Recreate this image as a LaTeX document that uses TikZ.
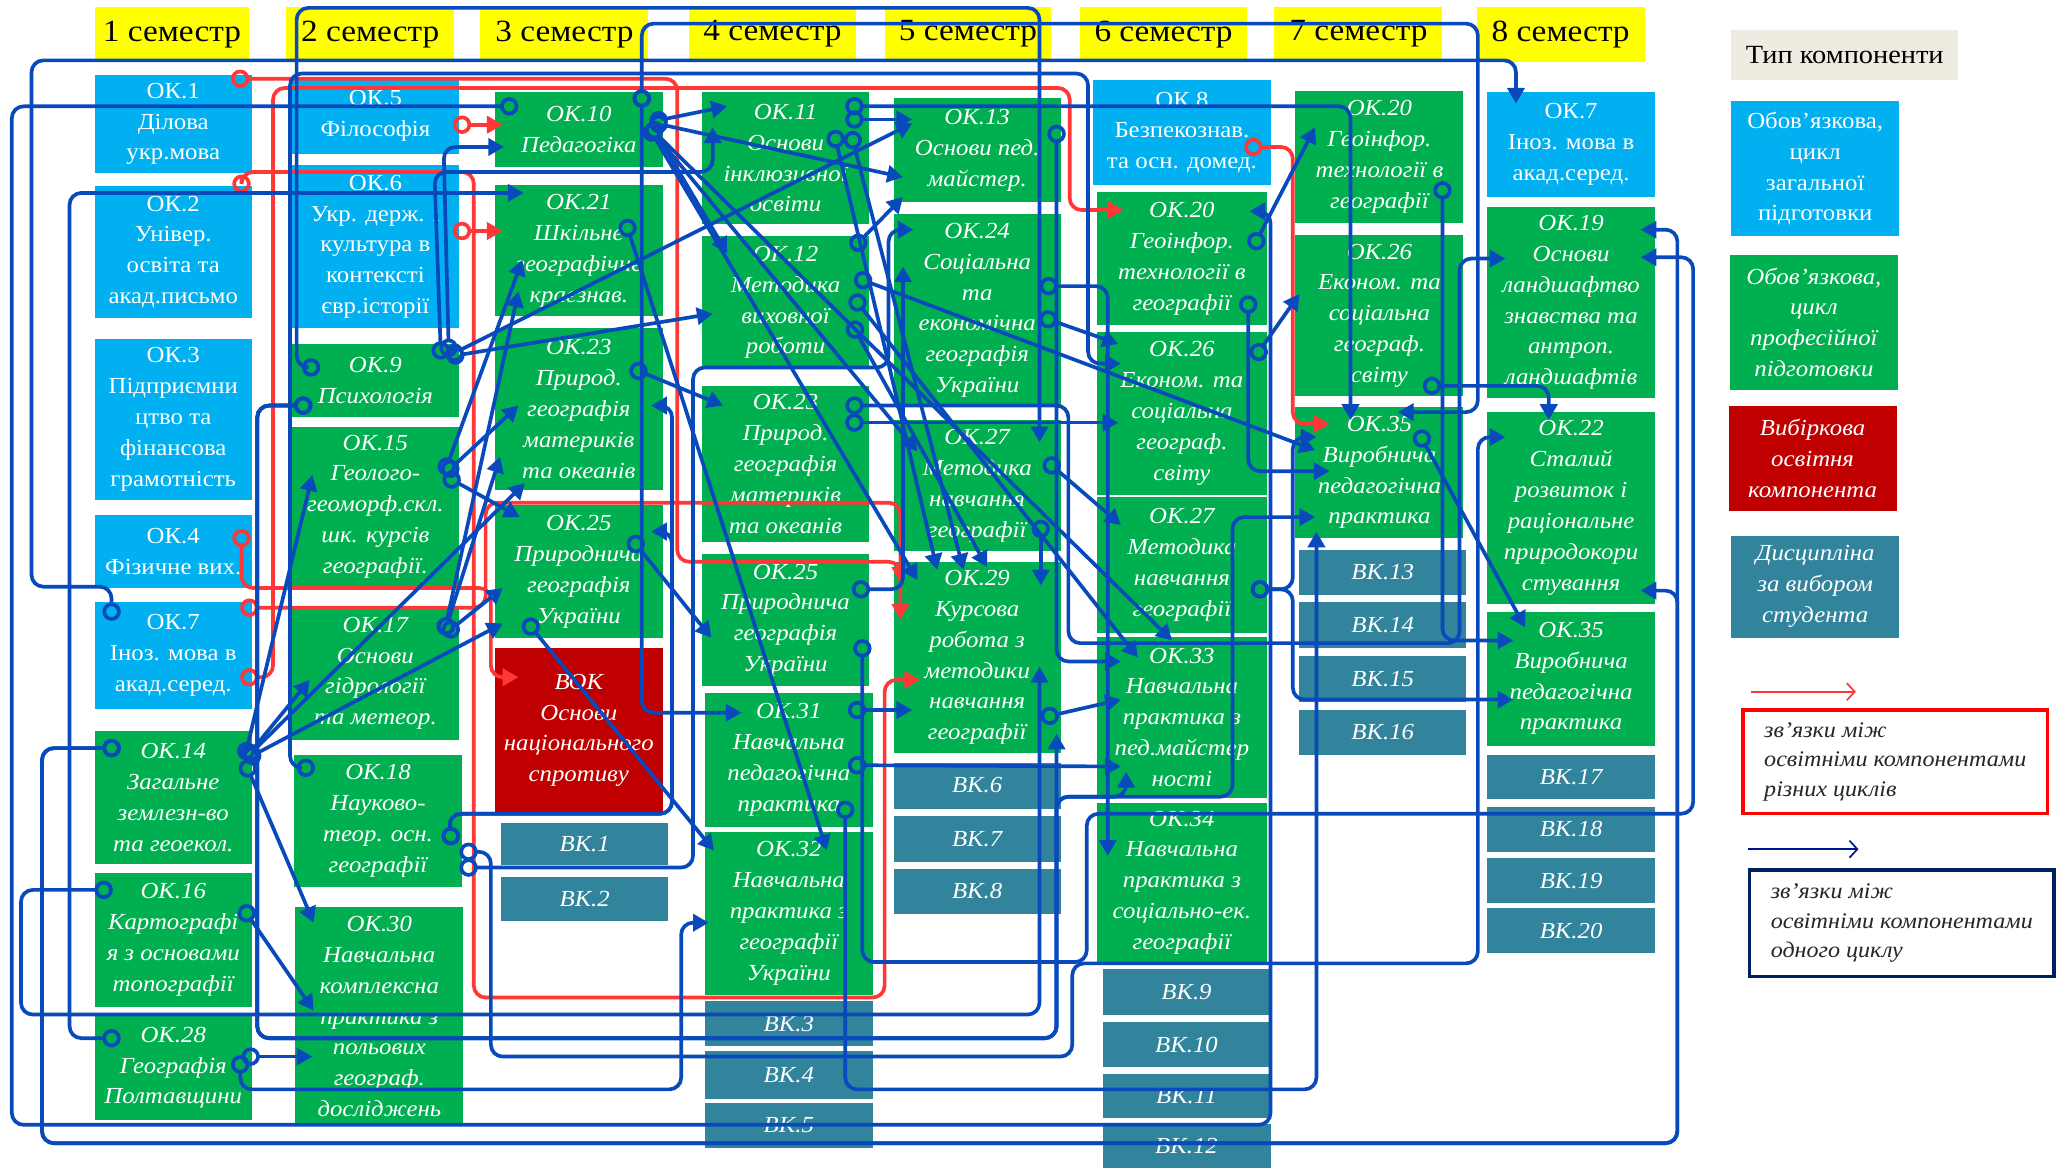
\documentclass[tikz,border=0pt]{standalone}
\usepackage{fontspec}
\setmainfont{Liberation Serif}[FakeStretch=1.08]
\usetikzlibrary{arrows.meta,calc}
\definecolor{cLB}{HTML}{00B0F0}
\definecolor{cGR}{HTML}{00B050}
\definecolor{cRD}{HTML}{C00000}
\definecolor{cTL}{HTML}{31849B}
\definecolor{cYL}{HTML}{FFFF00}
\definecolor{cLN}{RGB}{8,74,188}
\definecolor{cRL}{RGB}{255,55,55}
\definecolor{cNV}{HTML}{002060}
\definecolor{cBG}{HTML}{EEECE1}
\newcommand\bxfont{\fontsize{17.5}{23.5}\selectfont}
\newcommand\hdfont{\fontsize{23.5}{26}\selectfont}
\newcommand\lgfont{\fontsize{17}{22.5}\selectfont}
\newcommand\bx[7]{%
 \pgfmathsetlengthmacro\bw{(#4-#3)*1pt}\pgfmathsetlengthmacro\bh{(#6-#5)*1pt}%
 \pgfmathsetmacro\bcx{(#3+#4)/2}\pgfmathsetmacro\bcy{(#5+#6)/2}%
 \node[#2,minimum width=\bw,minimum height=\bh] (#1) at (\bcx,\bcy) {#7};}
\newcommand\ptE[3]{($(#1.east|-0,#2)+(#3,0)$)}
\newcommand\ptW[3]{($(#1.west|-0,#2)+(#3,0)$)}
\newcommand\ptN[3]{($(#1.north-|#2,0)+(0,#3)$)}
\newcommand\ptS[3]{($(#1.south-|#2,0)+(0,#3)$)}
\tikzset{
 box/.style={inner sep=0pt,outer sep=0pt,align=center,text=white,font=\bxfont},
 lb/.style={box,fill=cLB},
 gr/.style={box,fill=cGR,font=\bxfont\itshape},
 rdb/.style={box,fill=cRD,font=\bxfont\itshape},
 tl/.style={box,fill=cTL,font=\bxfont\itshape},
 hd/.style={inner sep=0pt,outer sep=0pt,fill=cYL,text=black,font=\hdfont},
 lgbox/.style={inner sep=0pt,outer sep=0pt,fill=white,line width=2.6pt,align=left,text=black!85,font=\lgfont\itshape},
 cb/.style={draw=cLN,line width=2.8pt,rounded corners=9pt,{Circle[open,length=14pt,width=14pt]}-{Triangle[length=12pt,width=13pt]}},
 cr/.style={draw=cRL,line width=2.8pt,rounded corners=9pt,{Circle[open,length=14pt,width=14pt]}-{Triangle[length=12pt,width=13pt]}}
}
\begin{document}
\begin{tikzpicture}[x=1pt,y=-1pt]
\useasboundingbox (0,0) rectangle (1568,890);
\fill[white] (0,0) rectangle (1568,890);
% headers
\bx{h1}{hd}{72}{190}{5}{47}{1 семестр}
\bx{h2}{hd}{218}{346}{5}{47}{2 семестр}
\bx{h3}{hd}{366}{494}{5}{47}{3 семестр}
\bx{h4}{hd}{525}{652}{5}{47}{4 семестр}
\bx{h5}{hd}{674}{801}{5}{47}{5 семестр}
\bx{h6}{hd}{823}{950}{5}{47}{6 семестр}
\bx{h7}{hd}{971}{1099}{5}{47}{7 семестр}
\bx{h8}{hd}{1125}{1253}{5}{47}{8 семестр}
% column 1
\bx{ok1}{lb}{72}{192}{57}{132}{ОК.1\\Ділова\\укр.мова}
\bx{ok2}{lb}{72}{192}{142}{242}{ОК.2\\Універ.\\освіта та\\акад.письмо}
\bx{ok3}{lb}{72}{192}{258}{381}{ОК.3\\Підприємни\\цтво та\\фінансова\\грамотність}
\bx{ok4}{lb}{72}{192}{392}{448}{ОК.4\\Фізичне вих.}
\bx{ok7a}{lb}{72}{192}{459}{540}{ОК.7\\Іноз. мова в\\акад.серед.}
\bx{ok14}{gr}{72}{192}{557}{658}{ОК.14\\Загальне\\землезн-во\\та геоекол.}
\bx{ok16}{gr}{72}{192}{665}{767}{ОК.16\\Картографі\\я з основами\\топографії}
\bx{ok28}{gr}{72}{192}{774}{853}{ОК.28\\Географія\\Полтавщини}
% column 2
\bx{ok5}{lb}{222}{350}{60}{117}{ОК.5\\Філософія}
\bx{ok6}{lb}{222}{350}{126}{250}{ОК.6\\Укр. держ. і\\культура в\\контексті\\євр.історії}
\bx{ok9}{gr}{222}{350}{262}{318}{ОК.9\\Психологія}
\bx{ok15}{gr}{222}{350}{325}{447}{ОК.15\\Геолого-\\геоморф.скл.\\шк. курсів\\географії.}
\bx{ok17}{gr}{222}{350}{462}{564}{ОК.17\\Основи\\гідрології\\та метеор.}
\bx{ok18}{gr}{224}{352}{575}{676}{ОК.18\\Науково-\\теор. осн.\\географії}
\bx{ok30}{gr}{225}{353}{691}{858}{ОК.30\\Навчальна\\комплексна\\практика з\\польових\\географ.\\досліджень}
% column 3
\bx{ok10}{gr}{377}{505}{70}{127}{ОК.10\\Педагогіка}
\bx{ok21}{gr}{377}{505}{141}{241}{ОК.21\\Шкільне\\географічне\\краєзнав.}
\bx{ok23a}{gr}{377}{505}{250}{373}{ОК.23\\Природ.\\географія\\материків\\та океанів}
\bx{ok25a}{gr}{377}{505}{385}{486}{ОК.25\\Природнича\\географія\\України}
\bx{vok}{rdb}{377}{505}{494}{619}{ВОК\\Основи\\національного\\спротиву}
\bx{vk1}{tl}{382}{509}{627}{659}{ВК.1}
\bx{vk2}{tl}{382}{509}{668}{702}{ВК.2}
% column 4
\bx{ok11}{gr}{535}{662}{70}{171}{ОК.11\\Основи\\інклюзивної\\освіти}
\bx{ok12}{gr}{535}{662}{180}{281}{ОК.12\\Методика\\виховної\\роботи}
\bx{ok23b}{gr}{535}{662}{294}{413}{ОК.23\\Природ.\\географія\\материків\\та океанів}
\bx{ok25b}{gr}{535}{662}{422}{523}{ОК.25\\Природнича\\географія\\України}
\bx{ok31}{gr}{537}{665}{528}{630}{ОК.31\\Навчальна\\педагогічна\\практика}
\bx{ok32}{gr}{537}{665}{634}{758}{ОК.32\\Навчальна\\практика з\\географії\\України}
\bx{vk3}{tl}{537}{665}{763}{797}{ВК.3}
\bx{vk4}{tl}{537}{665}{801}{837}{ВК.4}
\bx{vk5}{tl}{537}{665}{840}{875}{ВК.5}
% column 5
\bx{ok13}{gr}{681}{808}{75}{154}{ОК.13\\Основи пед.\\майстер.}
\bx{ok24}{gr}{681}{808}{163}{310}{ОК.24\\Соціальна\\та\\економічна\\географія\\України}
\bx{ok27a}{gr}{681}{808}{320}{420}{ОК.27\\Методика\\навчання\\географії}
\bx{ok29}{gr}{681}{808}{428}{574}{ОК.29\\Курсова\\робота з\\методики\\навчання\\географії}
\bx{vk6}{tl}{681}{808}{581}{616}{ВК.6}
\bx{vk7}{tl}{681}{808}{622}{657}{ВК.7}
\bx{vk8}{tl}{681}{808}{662}{696}{ВК.8}
% column 6
\bx{ok8}{lb}{833}{968}{61}{141}{ОК.8\\Безпекознав.\\та осн. домед.}
\bx{ok20a}{gr}{836}{965}{146}{248}{ОК.20\\Геоінфор.\\технології в\\географії}
\bx{ok26a}{gr}{836}{965}{253}{377}{ОК.26\\Економ. та\\соціальна\\географ.\\світу}
\bx{ok27b}{gr}{836}{965}{379}{482}{ОК.27\\Методика\\навчання\\географії}
\bx{ok33}{gr}{836}{965}{485}{608}{ОК.33\\Навчальна\\практика з\\пед.майстер\\ності}
\bx{ok34}{gr}{836}{965}{612}{733}{ОК.34\\Навчальна\\практика з\\соціально-ек.\\географії}
\bx{vk9}{tl}{840}{968}{738}{773}{ВК.9}
\bx{vk10}{tl}{840}{968}{779}{813}{ВК.10}
\bx{vk11}{tl}{840}{968}{818}{852}{ВК.11}
\bx{vk12}{tl}{840}{968}{856}{890}{ВК.12}
% column 7
\bx{ok20b}{gr}{987}{1115}{69}{170}{ОК.20\\Геоінфор.\\технології в\\географії}
\bx{ok26b}{gr}{987}{1115}{179}{302}{ОК.26\\Економ. та\\соціальна\\географ.\\світу}
\bx{ok35a}{gr}{987}{1115}{310}{410}{ОК.35\\Виробнича\\педагогічна\\практика}
\bx{vk13}{tl}{990}{1117}{419}{453}{ВК.13}
\bx{vk14}{tl}{990}{1117}{459}{494}{ВК.14}
\bx{vk15}{tl}{990}{1117}{500}{535}{ВК.15}
\bx{vk16}{tl}{990}{1117}{541}{575}{ВК.16}
% column 8
\bx{ok7b}{lb}{1133}{1261}{70}{150}{ОК.7\\Іноз. мова в\\акад.серед.}
\bx{ok19}{gr}{1133}{1261}{158}{303}{ОК.19\\Основи\\ландшафтво\\знавства та\\антроп.\\ландшафтів}
\bx{ok22}{gr}{1133}{1261}{314}{460}{ОК.22\\Сталий\\розвиток і\\раціональне\\природокори\\стування}
\bx{ok35b}{gr}{1133}{1261}{466}{568}{ОК.35\\Виробнича\\педагогічна\\практика}
\bx{vk17}{tl}{1133}{1261}{575}{609}{ВК.17}
\bx{vk18}{tl}{1133}{1261}{615}{649}{ВК.18}
\bx{vk19}{tl}{1133}{1261}{654}{688}{ВК.19}
\bx{vk20}{tl}{1133}{1261}{692}{726}{ВК.20}
% legend
\bx{lgT}{inner sep=0pt,fill=cBG,text=black,font=\fontsize{20}{24}\selectfont}{1319}{1492}{23}{61}{Тип компоненти}
\bx{lgB}{lb}{1319}{1447}{77}{180}{Обов’язкова,\\цикл\\загальної\\підготовки}
\bx{lgG}{gr}{1318}{1446}{194}{297}{Обов’язкова,\\цикл\\професійної\\підготовки}
\bx{lgR}{rdb}{1317}{1445}{309}{389}{Вибіркова\\освітня\\компонента}
\bx{lgC}{tl}{1319}{1447}{408}{486}{Дисципліна\\за вибором\\студента}
\bx{lgr}{lgbox,draw=red}{1328}{1560}{541}{620}{зв’язки між\\освітніми компонентами\\різних циклів}
\bx{lgn}{lgbox,draw=cNV}{1333}{1565}{663}{744}{зв’язки між\\освітніми компонентами\\одного циклу}
\coordinate (ar1) at (1334,527); \coordinate (ar2) at (1414,527);
\coordinate (an1) at (1332,647); \coordinate (an2) at (1416,647);
\draw[cRL,line width=1.3pt,-{Straight Barb[length=6pt,width=13pt]}] (ar1) -- (ar2);
\draw[cNV!70!blue,line width=1.3pt,-{Straight Barb[length=6pt,width=13pt]}] (an1) -- (an2);
% red connectors
\draw[cr] \ptE{ok1}{60}{-16} -- (516,60) -- (516,428) -- (686,428) -- \ptN{ok29}{686}{16};
\draw[cr] \ptE{ok7a}{516}{-9} -- (208,516) -- (208,67) -- (815,67) -- (815,160) -- \ptW{ok20a}{160}{20};
\draw[cr] ($(ok2.north east)+(-8,5)$) -- (184,131) -- (361,131) -- (361,760) -- (674,760) -- (674,518) -- \ptW{ok29}{518}{20};
\draw[cr] \ptE{ok4}{403}{-8} -- (184,448) -- (374,448) -- (374,516) -- \ptW{vok}{516}{18};
\draw[cr] \ptE{ok7a}{463}{-9} -- (370,463) -- (370,383) -- (686,383) -- \ptN{ok29}{686}{44};
\draw[cr] \ptE{ok5}{95}{-5} -- \ptW{ok10}{95}{6};
\draw[cr] \ptE{ok6}{176}{-5} -- \ptW{ok21}{176}{6};
\draw[cr] \ptE{ok8}{112}{-20} -- (985,112) -- (985,323) -- \ptW{ok35a}{323}{26};
% blue connectors: long routes
\draw[cb] \ptN{ok7a}{85}{14} -- (85,447) -- (24,447) -- (24,46) -- (1155,46) -- \ptN{ok7b}{1155}{9};
\draw[cb] \ptN{ok10}{489}{12} -- (489,18) -- (1126,18) -- (1126,314) -- \ptE{ok35a}{314}{-50};
\draw[cb] \ptN{ok10}{489}{-2} -- (489,543) -- \ptW{ok31}{543}{28};
\draw[cb] \ptW{ok10}{81}{18} -- (9,81) -- (9,857) -- (968,857) -- (968,161) -- \ptE{ok20a}{161}{-13};
\draw[cb] \ptW{ok14}{570}{20} -- (32,570) -- (32,871) -- (1278,871) -- (1278,175) -- \ptE{ok19}{175}{-11};
\draw[cb] \ptW{ok14}{570}{20} -- (32,570) -- (32,871) -- (1278,871) -- (1278,450) -- \ptE{ok22}{450}{-11};
\draw[cb] \ptW{ok28}{791}{20} -- (53,791) -- (53,147) -- \ptW{ok21}{147}{22};
\draw[cb] \ptW{ok16}{678}{14} -- (16,678) -- (16,773) -- (792,773) -- \ptS{ok29}{792}{-66};
\draw[cb] \ptW{ok9}{280}{22} -- (226,280) -- (226,6) -- (792,6) -- \ptN{ok27a}{792}{17};
\draw[cb] \ptW{ok9}{309}{16} -- (196,309) -- (196,791) -- (805,791) -- \ptS{ok29}{805}{-15};
\draw[cb] \ptW{ok9}{309}{16} -- (196,309) -- (196,791) -- (805,791) -- (805,607) -- (858,607) -- \ptS{ok33}{858}{-20};
\draw[cb] \ptW{ok9}{309}{16} -- (196,309) -- (196,791) -- (805,791) -- (805,607) -- (939,607) -- (939,394) -- \ptW{ok35a}{394}{15};
\draw[cb] \ptW{ok18}{585}{16} -- (221,585) -- (221,56) -- (829,56) -- (829,277) -- \ptW{ok26a}{277}{18};
\draw[cb] \ptE{ok28}{804}{-9} -- (183,830) -- (519,830) -- (519,703) -- \ptW{ok32}{703}{3};
\draw[cb] \ptE{ok18}{644}{-8} -- (342,620) -- (512,620) -- (512,309) -- \ptE{ok23a}{309}{-9};
\draw[cb] \ptE{ok18}{644}{-8} -- (342,620) -- (512,620) -- (512,405) -- \ptE{ok25a}{405}{-9};
\draw[cb] \ptE{ok18}{661}{-2} -- (528,661) -- (528,280) -- (677,280) -- (677,175) -- \ptW{ok24}{175}{15};
\draw[cb] \ptE{ok18}{649}{-2} -- (374,649) -- (374,805) -- (817,805) -- (817,734) -- (1126,734) -- (1126,333) -- \ptW{ok22}{333}{14};
\draw[cb] \ptE{ok25b}{449}{-13} -- (688,449) -- \ptS{ok24}{688}{-107};
\draw[cb] \ptE{ok25b}{487}{-5} -- (657,733) -- (828,733) -- (828,620) -- (1290,620) -- (1290,196) -- \ptE{ok19}{196}{-11};
\draw[cb] \ptE{ok23b}{309}{-18} -- (814,309) -- (814,490) -- (1112,490) -- (1112,197) -- \ptW{ok19}{197}{14};
\draw[cb] \ptE{ok11}{81}{-18} -- (1029,81) -- \ptN{ok35a}{1029}{10};
\draw[cb] \ptE{ok24}{218}{-16} -- (844,218) -- \ptN{ok34}{844}{40};
\draw[cb] \ptE{ok13}{95}{-3} -- (805,504) -- \ptW{ok33}{504}{18};
\draw[cb] \ptE{ok31}{610}{-21} -- (644,830) -- (1003,830) -- \ptS{ok35a}{1003}{-5};
\draw[cb] \ptE{ok20a}{225}{-14} -- (951,359) -- \ptW{ok35a}{359}{26};
\draw[cb] \ptE{ok27b}{449}{-12} -- (985,449) -- (985,333) -- \ptW{ok35a}{333}{16};
\draw[cb] \ptE{ok27b}{449}{-12} -- (985,449) -- (985,533) -- \ptW{ok35b}{533}{20};
\draw[cb] \ptE{ok20b}{138}{-16} -- (1099,488) -- \ptW{ok35b}{488}{20};
\draw[cb] \ptE{ok26b}{294}{-31} -- (1180,294) -- \ptN{ok22}{1180}{6};
% blue connectors: short / diagonal
\draw[cb] \ptE{ok9}{272}{-8} -- (338,112) -- \ptW{ok10}{112}{7};
\draw[cb] \ptE{ok9}{274}{-14} -- (331,131) -- (543,131) -- \ptN{ok11}{543}{27};
\draw[cb] \ptE{ok9}{272}{-10} -- \ptW{ok12}{239}{8};
\draw[cb] \ptE{ok9}{272}{-10} -- \ptW{ok13}{94}{14};
\draw[cb] \ptE{ok28}{805}{-8} -- \ptW{ok30}{805}{13};
\draw[cb] \ptE{ok16}{690}{-8} -- \ptW{ok30}{770}{14};
\draw[cb] \ptE{ok14}{579}{-6} -- \ptW{ok30}{703}{14};
\draw[cb] \ptE{ok14}{579}{-6} -- \ptW{ok15}{362}{16};
\draw[cb] \ptE{ok14}{579}{-6} -- \ptW{ok17}{518}{14};
\draw[cb] \ptE{ok14}{579}{-6} -- \ptW{ok23a}{368}{23};
\draw[cb] \ptE{ok14}{579}{-6} -- \ptW{ok25a}{475}{6};
\draw[cb] \ptE{ok15}{362}{-12} -- \ptW{ok21}{198}{21};
\draw[cb] \ptE{ok15}{362}{-12} -- \ptW{ok23a}{309}{18};
\draw[cb] \ptE{ok15}{362}{-12} -- \ptW{ok25a}{394}{19};
\draw[cb] \ptE{ok17}{484}{-12} -- \ptW{ok21}{222}{18};
\draw[cb] \ptE{ok17}{484}{-12} -- \ptW{ok23a}{348}{4};
\draw[cb] \ptE{ok17}{484}{-12} -- \ptW{ok25a}{448}{6};
\draw[cb] \ptE{ok10}{93}{-10} -- \ptW{ok11}{81}{19};
\draw[cb] \ptE{ok10}{93}{-10} -- \ptW{ok13}{135}{7};
\draw[cb] \ptE{ok10}{93}{-10} -- \ptW{ok12}{193}{19};
\draw[cb] \ptE{ok10}{95}{-12} -- \ptN{ok29}{699}{14};
\draw[cb] \ptE{ok10}{95}{-12} -- \ptN{ok27a}{699}{24};
\draw[cb] \ptE{ok10}{95}{-12} -- \ptN{ok33}{893}{3};
\draw[cb] \ptE{ok11}{91}{-18} -- \ptW{ok13}{91}{14};
\draw[cb] \ptE{ok11}{99}{-27} -- \ptN{ok29}{714}{6};
\draw[cb] \ptE{ok11}{100}{-14} -- \ptN{ok29}{734}{6};
\draw[cb] \ptE{ok12}{245}{-14} -- \ptN{ok29}{752}{4};
\draw[cb] \ptE{ok12}{190}{-13} -- \ptW{ok13}{150}{7};
\draw[cb] \ptE{ok12}{211}{-11} -- \ptW{ok35a}{343}{15};
\draw[cb] \ptE{ok12}{225}{-13} -- \ptN{ok33}{867}{16};
\draw[cb] \ptE{ok21}{167}{-29} -- \ptN{ok32}{630}{14};
\draw[cb] \ptE{ok23a}{280}{-25} -- \ptW{ok23b}{309}{16};
\draw[cb] \ptE{ok25a}{409}{-25} -- \ptW{ok25b}{486}{7};
\draw[cb] \ptW{ok25a}{472}{23} -- \ptW{ok32}{648}{7};
\draw[cb] \ptE{ok23b}{322}{-18} -- \ptW{ok26a}{322}{16};
\draw[cb] \ptE{ok24}{241}{-16} -- \ptW{ok26a}{262}{16};
\draw[cb] \ptE{ok27a}{396}{-15} -- \ptN{ok29}{793}{18};
\draw[cb] \ptE{ok27a}{350}{-12} -- \ptW{ok27b}{400}{18};
\draw[cb] \ptE{ok31}{541}{-19} -- \ptW{ok29}{541}{14};
\draw[cb] \ptE{ok31}{583}{-19} -- \ptW{ok33}{584}{18};
\draw[cb] \ptE{ok29}{547}{-15} -- \ptW{ok33}{533}{18};
\draw[cb] \ptE{ok20a}{190}{-11} -- \ptW{ok20b}{97}{15};
\draw[cb] \ptE{ok26a}{274}{-10} -- \ptW{ok26b}{224}{3};
\draw[cb] \ptE{ok35a}{328}{-35} -- \ptN{ok35b}{1162}{12};
\end{tikzpicture}
\end{document}
